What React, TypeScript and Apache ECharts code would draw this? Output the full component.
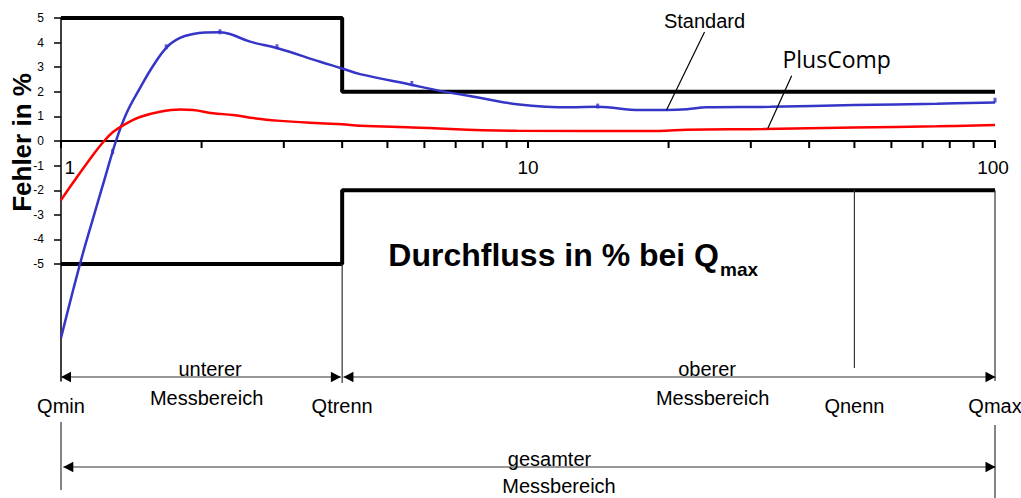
import React, { useEffect, useRef } from 'react';
import * as echarts from 'echarts';

// ---------- data ----------
const yTicks = [-5, -4, -3, -2, -1, 0, 1, 2, 3, 4, 5];
const xMajor = [1, 10, 100];
const xMinor = [2, 3, 4, 5, 6, 7, 8, 9, 20, 30, 40, 50, 60, 70, 80, 90];

const stdX = [1, 1.098, 1.173, 1.242, 1.311, 1.385, 1.476, 1.574, 1.686, 1.798, 1.918, 2.034, 2.19, 2.3, 2.54, 2.9, 3.59, 4, 4.37, 5.64, 6.37, 8.03, 9.46, 12.3, 14.1, 17.4, 19.8, 21.9, 24.1, 33, 50, 75, 100];
const stdY = [-8.0, -5.0, -3.1, -1.5, 0, 1.18, 2.15, 3.05, 3.82, 4.19, 4.35, 4.41, 4.42, 4.35, 4.04, 3.78, 3.22, 2.95, 2.72, 2.28, 2.07, 1.73, 1.5, 1.37, 1.39, 1.26, 1.26, 1.29, 1.37, 1.39, 1.46, 1.52, 1.57];

const stdPtX = [1.29, 1.68, 2.19, 2.9, 5.64, 14.1, 100];
const stdPtY = [-0.43, 3.83, 4.44, 3.83, 2.34, 1.42, 1.66];

const pcX = [1, 1.071, 1.154, 1.224, 1.292, 1.385, 1.476, 1.629, 1.798, 1.918, 2.116, 2.335, 2.54, 2.9, 3.586, 4, 4.37, 5.64, 9.46, 19.1, 21.9, 32, 50, 75, 100];
const pcY = [-2.4, -1.585, -0.732, -0.102, 0.366, 0.732, 0.976, 1.19, 1.28, 1.26, 1.13, 1.06, 0.95, 0.83, 0.72, 0.68, 0.62, 0.555, 0.42, 0.41, 0.46, 0.49, 0.55, 0.6, 0.65];

const limUpX = [1, 4, 4, 100];
const limUpY = [5, 5, 2, 2];
const limLoX = [1, 4, 4, 100];
const limLoY = [-5, -5, -2, -2];

const qNames = ['Qmin', 'Qtrenn', 'Qnenn', 'Qmax'];
const qX = [1, 4, 50, 100];
const qLineFrom = [null, -5, -2, -2];

const rangeFrom = [1, 4, 1];
const rangeTo = [4, 100, 100];
const rangeTop = ['unterer', 'oberer', 'gesamter'];
const rangeBottom = ['Messbereich', 'Messbereich', 'Messbereich'];

const calloutNames = ['Standard', 'PlusComp'];
const calloutX = [19.8, 32.6];
const calloutY = [1.26, 0.5];

const Y_MIN = -9.75;
const Y_MAX = 5;

// ---------- layout (pixels) ----------
const FONT = "'Liberation Sans', Arial, Helvetica, sans-serif";
const Q_LAYOUT = [
  { upperEnd: null as number | null, lower: [422, 490] as number[] | null },
  { upperEnd: 383, lower: null },
  { upperEnd: 368, lower: null },
  { upperEnd: 381, lower: [425, 498] },
];
const Q_LABEL_Y = 406;
const RANGE_LAYOUT = [
  { y: 377, gapL: 0, gapR: 1.3, dxT: 8.5, dxB: 5, topY: 369, botY: 398 },
  { y: 377, gapL: 1.3, gapR: -0.5, dxT: 38.5, dxB: 44, topY: 369, botY: 398 },
  { y: 467, gapL: 2.3, gapR: -0.5, dxT: 21.5, dxB: 31, topY: 459, botY: 486 },
];
const CALLOUT_LAYOUT = [
  { lx: 38, ly: -78, tx: 38, ty: -89.5, font: `20px ${FONT}` },
  { lx: 24, ly: -53, tx: 69, ty: -70, font: `23px 'Open Sans', ${FONT}` },
];
const X_LABEL_DY = 26;
const X_LABEL_DX = [8.7, 0, -2];
const THIN = '#333333';

function txt(text: string, x: number, y: number, font: string, align = 'center') {
  return {
    type: 'text',
    x,
    y,
    style: {
      text,
      font,
      fill: '#000',
      textAlign: align,
      textVerticalAlign: 'middle',
      align,
      verticalAlign: 'middle',
    },
  };
}

function arrowHead(tipX: number, y: number, dir: number) {
  return {
    type: 'polygon',
    shape: { points: [[tipX, y], [tipX + dir * 10, y - 5.3], [tipX + dir * 10, y + 5.3]] },
    style: { fill: '#000' },
  };
}

export default function App() {
  const ref = useRef<HTMLDivElement>(null);

  useEffect(() => {
    document.body.style.margin = '0';
    if (!ref.current) return;
    const chart = echarts.init(ref.current, null, { renderer: 'svg' });

    const option: any = {
      animation: false,
      backgroundColor: '#ffffff',
      grid: { left: 61, top: 18, width: 934, height: 363 },
      xAxis: {
        type: 'log',
        logBase: 10,
        min: 1,
        max: 100,
        axisLine: { show: true, onZero: true, lineStyle: { color: '#000', width: 2 } },
        axisTick: { show: false },
        minorTick: { show: false },
        splitLine: { show: false },
        axisLabel: { show: false },
      },
      yAxis: {
        type: 'value',
        min: Y_MIN,
        max: Y_MAX,
        axisLine: { show: true, onZero: false, lineStyle: { color: '#000', width: 1.5 } },
        axisTick: { show: true, length: 7, customValues: yTicks, lineStyle: { color: '#000', width: 1.5 } },
        axisLabel: { customValues: yTicks, margin: 17, fontSize: 12, fontFamily: FONT, color: '#000' },
        splitLine: { show: false },
      },
      graphic: [
        {
          type: 'text',
          x: 22.4,
          y: 142.5,
          rotation: Math.PI / 2,
          style: {
            text: 'Fehler in %',
            font: `bold 26px ${FONT}`,
            fill: '#000',
            textAlign: 'center',
            textVerticalAlign: 'middle',
            align: 'center',
            verticalAlign: 'middle',
          },
        },
        {
          type: 'text',
          x: 719,
          y: 255,
          style: {
            text: 'Durchfluss in % bei Q',
            font: `bold 32px ${FONT}`,
            fill: '#000',
            textAlign: 'right',
            textVerticalAlign: 'middle',
            align: 'right',
            verticalAlign: 'middle',
          },
        },
        {
          type: 'text',
          x: 720,
          y: 269,
          style: {
            text: 'max',
            font: `bold 19px ${FONT}`,
            fill: '#000',
            textAlign: 'left',
            textVerticalAlign: 'middle',
            align: 'left',
            verticalAlign: 'middle',
          },
        },
      ],
      series: [
        {
          name: 'Grenze oben',
          type: 'line',
          data: limUpX.map((x, i) => [x, limUpY[i]]),
          showSymbol: false,
          lineStyle: { color: '#000', width: 4 },
          z: 2,
        },
        {
          name: 'Grenze unten',
          type: 'line',
          data: limLoX.map((x, i) => [x, limLoY[i]]),
          showSymbol: false,
          lineStyle: { color: '#000', width: 4 },
          z: 2,
        },
        {
          name: 'Standard',
          type: 'line',
          data: stdX.map((x, i) => [x, stdY[i]]),
          smooth: 0.4,
          showSymbol: false,
          lineStyle: { color: '#3535C8', width: 2.5 },
          z: 3,
        },
        {
          name: 'Standard Messpunkte',
          type: 'scatter',
          data: stdPtX.map((x, i) => [x, stdPtY[i]]),
          symbol: 'rect',
          symbolSize: [3, 5],
          itemStyle: { color: '#3535C8' },
          z: 4,
        },
        {
          name: 'PlusComp',
          type: 'line',
          data: pcX.map((x, i) => [x, pcY[i]]),
          smooth: 0.4,
          showSymbol: false,
          lineStyle: { color: '#FF0000', width: 2.5 },
          z: 3,
        },
        {
          name: 'xTicks',
          type: 'custom',
          coordinateSystem: 'cartesian2d',
          clip: false,
          encode: { x: 0, y: 1 },
          data: xMajor.concat(xMinor).map((v) => [v, 0]),
          renderItem: (_params: any, api: any) => {
            const p = api.coord([api.value(0), 0]);
            return {
              type: 'line',
              shape: { x1: p[0], y1: p[1], x2: p[0], y2: p[1] + 7 },
              style: { stroke: '#000', lineWidth: 2 },
            };
          },
          z: 5,
        },
        {
          name: 'xLabels',
          type: 'custom',
          coordinateSystem: 'cartesian2d',
          clip: false,
          encode: { x: 0, y: 1 },
          data: xMajor.map((v) => [v, 0]),
          renderItem: (params: any, api: any) => {
            const p = api.coord([api.value(0), 0]);
            return txt(String(xMajor[params.dataIndex]), p[0] + X_LABEL_DX[params.dataIndex], p[1] + X_LABEL_DY, `19px ${FONT}`);
          },
          z: 5,
        },
        {
          name: 'qMarks',
          type: 'custom',
          coordinateSystem: 'cartesian2d',
          clip: false,
          encode: { x: 0, y: 1 },
          data: qX.map((v) => [v, 0]),
          renderItem: (params: any, api: any) => {
            const i = params.dataIndex;
            const L = Q_LAYOUT[i];
            const px = api.coord([api.value(0), 0])[0];
            const children: any[] = [];
            const from = qLineFrom[i];
            if (from !== null && L.upperEnd !== null) {
              const top = api.coord([api.value(0), from])[1];
              children.push({
                type: 'line',
                shape: { x1: px, y1: top, x2: px, y2: L.upperEnd },
                style: { stroke: THIN, lineWidth: 1.2 },
              });
            }
            if (L.lower) {
              children.push({
                type: 'line',
                shape: { x1: px, y1: L.lower[0], x2: px, y2: L.lower[1] },
                style: { stroke: THIN, lineWidth: 1.2 },
              });
            }
            children.push(txt(qNames[i], px, Q_LABEL_Y, `20px ${FONT}`));
            return { type: 'group', children };
          },
          z: 5,
        },
        {
          name: 'ranges',
          type: 'custom',
          coordinateSystem: 'cartesian2d',
          clip: false,
          encode: { x: [0, 1], y: 2 },
          data: rangeFrom.map((f, i) => [f, rangeTo[i], 0]),
          renderItem: (params: any, api: any) => {
            const i = params.dataIndex;
            const L = RANGE_LAYOUT[i];
            const a = api.coord([api.value(0), 0])[0];
            const b = api.coord([api.value(1), 0])[0];
            const xl = a + L.gapL;
            const xr = b - L.gapR;
            const mid = (a + b) / 2;
            return {
              type: 'group',
              children: [
                {
                  type: 'line',
                  shape: { x1: xl, y1: L.y, x2: xr, y2: L.y },
                  style: { stroke: THIN, lineWidth: 1.2 },
                },
                arrowHead(xl, L.y, 1),
                arrowHead(xr, L.y, -1),
                txt(rangeTop[i], mid + L.dxT, L.topY, `20px ${FONT}`),
                txt(rangeBottom[i], mid + L.dxB, L.botY, `20px ${FONT}`),
              ],
            };
          },
          z: 5,
        },
        {
          name: 'callouts',
          type: 'custom',
          coordinateSystem: 'cartesian2d',
          clip: false,
          encode: { x: 0, y: 1 },
          data: calloutX.map((x, i) => [x, calloutY[i]]),
          renderItem: (params: any, api: any) => {
            const i = params.dataIndex;
            const L = CALLOUT_LAYOUT[i];
            const p = api.coord([api.value(0), api.value(1)]);
            return {
              type: 'group',
              children: [
                {
                  type: 'line',
                  shape: { x1: p[0], y1: p[1], x2: p[0] + L.lx, y2: p[1] + L.ly },
                  style: { stroke: '#000', lineWidth: 1.2 },
                },
                txt(calloutNames[i], p[0] + L.tx, p[1] + L.ty, L.font),
              ],
            };
          },
          z: 6,
        },
      ],
    };

    chart.setOption(option);
    return () => {
      chart.dispose();
    };
  }, []);

  return <div ref={ref} style={{ width: 1021, height: 498 }} />;
}
